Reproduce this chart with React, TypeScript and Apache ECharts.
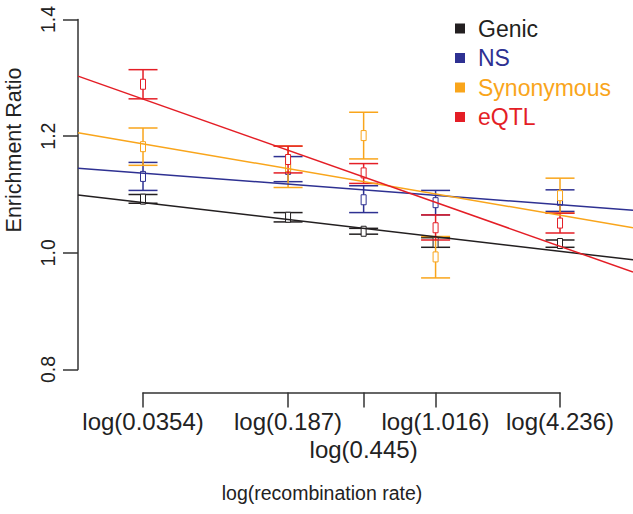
import React, { useEffect, useRef } from "react";
import * as echarts from "echarts";

// recombination rates (x positions are log of these)
const rates = [0.0354, 0.187, 0.445, 1.016, 4.236];
const tickLabels = ["log(0.0354)", "log(0.187)", "log(0.445)", "log(1.016)", "log(4.236)"];
const lowLabelIndex = 2; // label drawn on a second row

const seriesNames = ["Genic", "NS", "Synonymous", "eQTL"];
const seriesColors = ["#231f20", "#2e3192", "#f9a51b", "#e41e26"];

// enrichment ratio: centre, lower, upper per rate
const genicMid = [1.092, 1.061, 1.037, 1.018, 1.016];
const genicLow = [1.085, 1.053, 1.032, 1.0095, 1.0095];
const genicHigh = [1.1, 1.069, 1.042, 1.026, 1.022];

const nsMid = [1.131, 1.143, 1.091, 1.086, 1.09];
const nsLow = [1.107, 1.122, 1.069, 1.065, 1.071];
const nsHigh = [1.155, 1.165, 1.115, 1.107, 1.108];

const synMid = [1.182, 1.148, 1.201, 0.993, 1.098];
const synLow = [1.15, 1.112, 1.161, 0.957, 1.068];
const synHigh = [1.214, 1.183, 1.241, 1.028, 1.128];

const eqtlMid = [1.289, 1.16, 1.137, 1.043, 1.051];
const eqtlLow = [1.264, 1.137, 1.119, 1.022, 1.034];
const eqtlHigh = [1.314, 1.183, 1.153, 1.065, 1.068];

// regression fit lines: values at the two ends of the plot region (log rate)
const fitRange = [-4.087, 2.281];
const genicFit = [1.099, 0.988];
const nsFit = [1.145, 1.073];
const synFit = [1.206, 1.043];
const eqtlFit = [1.303, 0.967];

const yTicks = [0.8, 1.0, 1.2, 1.4];

const FONT = "Liberation Sans, Arial, Helvetica, sans-serif";

export default function App() {
  const ref = useRef<HTMLDivElement>(null);
  useEffect(() => {
    if (!ref.current) return;
    const chart = echarts.init(ref.current, null, { renderer: "svg" });
    const logs = rates.map((r) => Math.log(r));
    const labelFor = (v: number) => {
      let best = 0;
      logs.forEach((l, i) => {
        if (Math.abs(l - v) < Math.abs(logs[best] - v)) best = i;
      });
      return tickLabels[best];
    };
    const mids = [genicMid, nsMid, synMid, eqtlMid];
    const lows = [genicLow, nsLow, synLow, eqtlLow];
    const highs = [genicHigh, nsHigh, synHigh, eqtlHigh];
    const fits = [genicFit, nsFit, synFit, eqtlFit];

    const errSeries = seriesNames.map((name, s) => ({
      type: "custom",
      name,
      xAxisIndex: 0,
      yAxisIndex: 0,
      data: logs.map((x, i) => [x, mids[s][i], lows[s][i], highs[s][i]]),
      itemStyle: { color: seriesColors[s] },
      renderItem: (params: any, api: any) => {
        const x = api.value(0);
        const pMid = api.coord([x, api.value(1)]);
        const pLow = api.coord([x, api.value(2)]);
        const pHigh = api.coord([x, api.value(3)]);
        const hw = 14.5;
        const st = { stroke: seriesColors[s], lineWidth: 1.5, fill: "none" };
        return {
          type: "group",
          children: [
            { type: "line", shape: { x1: pLow[0], y1: pLow[1], x2: pHigh[0], y2: pHigh[1] }, style: st },
            { type: "line", shape: { x1: pLow[0] - hw, y1: pLow[1], x2: pLow[0] + hw, y2: pLow[1] }, style: st },
            { type: "line", shape: { x1: pHigh[0] - hw, y1: pHigh[1], x2: pHigh[0] + hw, y2: pHigh[1] }, style: st },
            { type: "rect", shape: { x: pMid[0] - 2.5, y: pMid[1] - 5, width: 5, height: 10 }, style: { stroke: seriesColors[s], lineWidth: 1, fill: "#fff" } },
          ],
        };
      },
      z: 2,
    }));

    const fitSeries = seriesNames.map((name, s) => ({
      type: "line",
      name: name + " fit",
      xAxisIndex: 0,
      yAxisIndex: 0,
      data: fitRange.map((x, i) => [x, fits[s][i]]),
      showSymbol: false,
      symbol: "none",
      lineStyle: { color: seriesColors[s], width: 1.5 },
      z: 3,
      silent: true,
    }));

    const labelAxisBase = {
      type: "value",
      gridIndex: 1,
      min: logs[0],
      max: logs[logs.length - 1],
      position: "bottom",
      offset: 23,
      splitLine: { show: false },
    };

    chart.setOption({
      animation: false,
      textStyle: { fontFamily: FONT },
      grid: [
        { left: 78, right: 0, top: 19.5, bottom: 144.5, containLabel: false },
        { left: 143, right: 73, top: 19.5, bottom: 144.5, containLabel: false },
      ],
      legend: {
        orient: "vertical",
        left: 450,
        top: 12,
        icon: "rect",
        itemWidth: 10,
        itemHeight: 10,
        itemGap: 6.5,
        selectedMode: false,
        textStyle: { fontSize: 23, fontFamily: FONT, padding: [0, 0, 0, 8] },
        data: seriesNames.map((n, i) => ({
          name: n,
          itemStyle: { color: seriesColors[i] },
          textStyle: { color: seriesColors[i], fontSize: 23, padding: [0, 0, 0, 8] },
        })),
      },
      xAxis: [
        {
          type: "value",
          gridIndex: 0,
          min: fitRange[0],
          max: fitRange[1],
          show: false,
          splitLine: { show: false },
        },
        {
          ...labelAxisBase,
          axisLine: { show: true, onZero: false, lineStyle: { color: "#333", width: 1.5 } },
          axisTick: { show: true, length: 15, lineStyle: { color: "#333", width: 1.5 }, customValues: logs },
          axisLabel: {
            color: "#222",
            fontSize: 24,
            fontFamily: FONT,
            margin: 17,
            customValues: logs.filter((_, i) => i !== lowLabelIndex),
            formatter: (v: number) => labelFor(v),
          },
        },
        {
          ...labelAxisBase,
          axisLine: { show: false, onZero: false },
          axisTick: { show: false },
          axisLabel: {
            color: "#222",
            fontSize: 24,
            fontFamily: FONT,
            margin: 45,
            customValues: [logs[lowLabelIndex]],
            formatter: (v: number) => labelFor(v),
          },
        },
      ],
      yAxis: [
        {
          type: "value",
          gridIndex: 0,
          min: yTicks[0],
          max: yTicks[yTicks.length - 1],
          interval: 0.2,
          splitLine: { show: false },
          axisLine: { show: true, onZero: false, lineStyle: { color: "#333", width: 1.5 } },
          axisTick: { show: true, length: 15, lineStyle: { color: "#333", width: 1.5 } },
          axisLabel: {
            rotate: 90,
            color: "#222",
            fontSize: 19.5,
            fontFamily: FONT,
            margin: 20,
            formatter: (v: number) => v.toFixed(1),
          },
        },
        {
          type: "value",
          gridIndex: 1,
          min: yTicks[0],
          max: yTicks[yTicks.length - 1],
          show: false,
          splitLine: { show: false },
        },
      ],
      graphic: [
        {
          type: "text",
          x: 322,
          y: 493,
          style: {
            text: "log(recombination rate)",
            fontSize: 19.5,
            fontFamily: FONT,
            fill: "#222",
            textAlign: "center",
            textVerticalAlign: "middle",
          },
        },
        {
          type: "text",
          x: 14,
          y: 150,
          rotation: Math.PI / 2,
          style: {
            text: "Enrichment Ratio",
            fontSize: 21.5,
            fontFamily: FONT,
            fill: "#222",
            textAlign: "center",
            textVerticalAlign: "middle",
          },
        },
      ],
      series: [...errSeries, ...fitSeries],
    });
    return () => chart.dispose();
  }, []);
  return <div ref={ref} style={{ width: 633, height: 514, position: "absolute", left: 0, top: 0 }} />;
}
